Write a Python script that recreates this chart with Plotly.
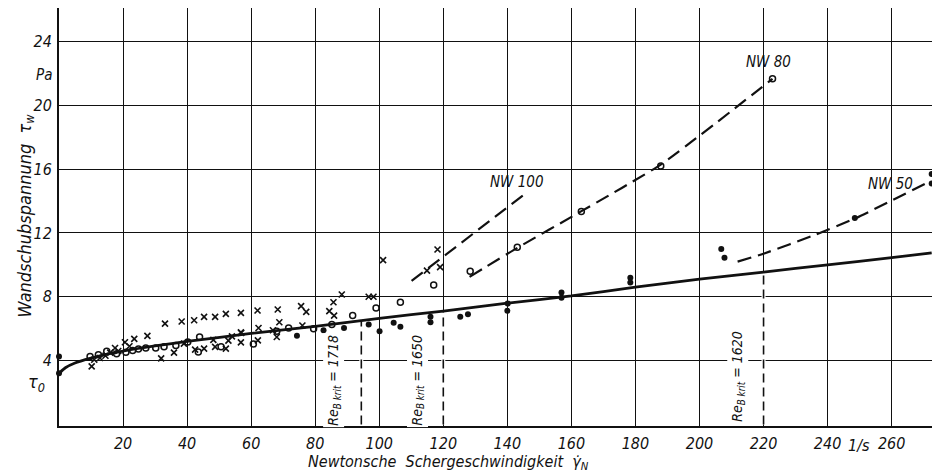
import numpy as np
import plotly.graph_objects as go

# ---------------- data ----------------
# fitted main curve (Bingham-like flow curve)
curve_x = [0, 2, 5, 10, 15, 20, 30, 40, 60, 80, 100, 120, 140, 160, 180, 200, 220, 240, 260, 272.5]
curve_y = [3.2, 3.55, 3.85, 4.15, 4.4, 4.6, 4.92, 5.2, 5.7, 6.15, 6.65, 7.1, 7.6, 8.05, 8.6, 9.1, 9.55, 10.0, 10.45, 10.75]

# dashed turbulent branches
nw100_x = [110.1, 146.2]
nw100_y = [9.0, 14.55]
nw80_x = [128.2, 143.0, 163.0, 188.0, 222.8]
nw80_y = [9.25, 11.05, 13.35, 16.3, 21.66]
nw50_x = [211.9, 220.0, 236.3, 248.9, 270.6]
nw50_y = [10.2, 10.7, 11.9, 12.94, 15.1]

# measured points: crosses
cross_x = [10.2, 11.0, 12.8, 14.5, 16.0, 17.5, 18.5, 20.6, 22.0, 23.5, 27.6, 31.9, 33.1, 35.9,
           38.3, 39.0, 42.2, 42.5, 45.3, 45.3, 48.2, 48.75, 48.75, 52.1, 52.1, 52.9, 54.0,
           56.8, 56.8, 56.8, 56.9, 62.0, 62.1, 62.3, 66.8, 68.0, 68.3, 68.8, 75.6, 76.0, 77.2,
           84.4, 85.7, 85.9, 88.3, 96.7, 98.2, 101.2, 114.9, 118.2, 119.0]
cross_y = [3.64, 4.05, 4.16, 4.3, 4.5, 4.79, 4.6, 5.15, 4.9, 5.36, 5.55, 4.14, 6.32, 4.5,
           6.45, 5.06, 6.53, 4.69, 6.74, 4.75, 5.3, 6.74, 4.86, 6.93, 4.75, 5.25, 5.52,
           6.99, 5.14, 5.77, 5.73, 7.14, 5.27, 6.04, 5.9, 5.48, 7.2, 6.4, 7.41, 6.2, 7.05,
           7.1, 7.66, 6.82, 8.14, 8.0, 8.0, 10.3, 9.64, 10.96, 9.86]

# measured points: open circles
circ_x = [9.7, 12.3, 14.9, 18.0, 20.9, 23.0, 24.8, 27.1, 30.2, 32.8, 36.5, 40.2, 43.9, 43.5,
          50.6, 60.7, 68.0, 71.7, 79.5, 85.2, 91.7, 99.0, 106.6, 117.0, 128.4, 143.1, 163.1,
          187.9, 222.8]
circ_y = [4.26, 4.37, 4.58, 4.43, 4.52, 4.64, 4.73, 4.79, 4.79, 4.86, 4.94, 5.17, 5.48, 4.54,
          4.86, 5.04, 5.84, 6.05, 5.99, 6.26, 6.82, 7.3, 7.66, 8.73, 9.6, 11.1, 13.35,
          16.2, 21.66]

# measured points: filled dots
dot_x = [0, 0, 74.3, 82.6, 89.0, 96.7, 100.1, 104.5, 106.6, 116.0, 116.0, 125.3, 127.7,
         140.1, 140.0, 156.9, 156.9, 178.4, 178.4, 206.8, 207.8, 248.5, 272.5, 272.5]
dot_y = [3.2, 4.26, 5.56, 5.9, 6.05, 6.26, 5.84, 6.37, 6.12, 6.75, 6.4, 6.75, 6.9,
         7.58, 7.12, 8.27, 7.94, 9.2, 8.9, 11.0, 10.45, 12.94, 15.7, 15.1]

# critical Reynolds markers
re_x = [94.4, 120.0, 220.0]
re_text_x = [85.6, 111.8, 211.8]
re_text_y = [2.75, 2.75, 3.0]
re_values = ["1718", "1650", "1620"]

# pipe labels
nw_labels = ["NW 100", "NW 80", "NW 50"]
nw_label_x = [143.0, 221.5, 259.7]
nw_label_y = [15.2, 22.7, 15.1]

x_ticks = [20, 40, 60, 80, 100, 120, 140, 160, 180, 200, 220, 240, 260]
y_ticks = [4, 8, 12, 16, 20, 24]

FONT = "DejaVu Sans Condensed, Liberation Sans Narrow, DejaVu Sans, sans-serif"
INK = "#111111"

fig = go.Figure()

# Re crit vertical dashed lines (white cover over grid first)
for xv in re_x:
    top = float(np.interp(xv, curve_x, curve_y))
    fig.add_trace(go.Scatter(x=[xv, xv], y=[0, top], mode="lines",
                             line=dict(color="white", width=4), hoverinfo="skip", showlegend=False))
    fig.add_trace(go.Scatter(x=[xv, xv], y=[0, top], mode="lines",
                             line=dict(color=INK, width=1.6, dash="9px,5px"),
                             hoverinfo="skip", showlegend=False))

# main curve
fig.add_trace(go.Scatter(x=curve_x, y=curve_y, mode="lines",
                         line=dict(color=INK, width=2.8, shape="spline", smoothing=0.6),
                         showlegend=False))

# dashed branches
for bx, by in [(nw100_x, nw100_y), (nw80_x, nw80_y), (nw50_x, nw50_y)]:
    fig.add_trace(go.Scatter(x=bx, y=by, mode="lines",
                             line=dict(color=INK, width=2.2, dash="14px,7px", shape="spline", smoothing=0.5),
                             showlegend=False))

# markers
fig.add_trace(go.Scatter(x=cross_x, y=cross_y, mode="markers",
                         marker=dict(symbol="x-thin", size=6, line=dict(color=INK, width=1.6)),
                         showlegend=False))
fig.add_trace(go.Scatter(x=circ_x, y=circ_y, mode="markers",
                         marker=dict(symbol="circle-open", size=6, color=INK, line=dict(color=INK, width=1.5)),
                         showlegend=False))
fig.add_trace(go.Scatter(x=dot_x, y=dot_y, mode="markers",
                         marker=dict(symbol="circle", size=6, color=INK),
                         showlegend=False, cliponaxis=False))

ann = []
for tx, ty, val in zip(re_text_x, re_text_y, re_values):
    ann.append(dict(x=tx, y=ty, xref="x", yref="y", showarrow=False, textangle=-90,
                    text=f"Re<sub>B krit</sub> = {val}", bgcolor="white",
                    font=dict(family=FONT, size=14, color=INK, style="italic")))
for lab, lx, ly in zip(nw_labels, nw_label_x, nw_label_y):
    ann.append(dict(x=lx, y=ly, xref="x", yref="y", showarrow=False, text=lab,
                    font=dict(family=FONT, size=15, color=INK, style="italic")))

# axis titles and units
ann.append(dict(x=121.6, y=0, xref="x", yref="paper", yanchor="middle", yshift=-36, showarrow=False,
                text="Newtonsche  Schergeschwindigkeit  γ̇<sub>N</sub>",
                font=dict(family=FONT, size=16, color=INK, style="italic")))
ann.append(dict(x=0, y=13.1, xref="paper", yref="y", xanchor="center", xshift=-33, showarrow=False,
                textangle=-90, text="Wandschubspannung  τ<sub>w</sub>",
                font=dict(family=FONT, size=18, color=INK, style="italic")))
ann.append(dict(x=0, y=21.9, xref="paper", yref="y", xanchor="center", xshift=-15, showarrow=False,
                text="Pa", font=dict(family=FONT, size=15, color=INK, style="italic")))
ann.append(dict(x=0, y=2.6, xref="paper", yref="y", xanchor="center", xshift=-23, showarrow=False,
                text="τ<sub>0</sub>", font=dict(family=FONT, size=18, color=INK, style="italic")))
ann.append(dict(x=249.7, y=0, xref="x", yref="paper", yanchor="middle", yshift=-19, showarrow=False,
                text="1/s", font=dict(family=FONT, size=16, color=INK, style="italic")))

# the page body adds an 8px offset; size the figure so the plot box lands where the reference has it
fig.update_layout(
    width=932, height=466,
    margin=dict(l=51, r=8, t=0, b=48),
    paper_bgcolor="white", plot_bgcolor="white",
    annotations=ann,
    font=dict(family=FONT, size=16, color=INK, style="italic"),
)
fig.update_xaxes(range=[0, 272.6], tickvals=x_ticks, ticktext=[str(v) for v in x_ticks],
                 showgrid=True, gridcolor=INK, gridwidth=1.4, zeroline=False, automargin=False,
                 showline=True, linecolor=INK, linewidth=2, mirror=True, ticks="",
                 ticklabelstandoff=2,
                 tickfont=dict(family=FONT, size=16, color=INK, style="italic"))
fig.update_yaxes(range=[-0.1, 26.1], tickvals=y_ticks, ticktext=[str(v) for v in y_ticks],
                 showgrid=True, gridcolor=INK, gridwidth=1.4, zeroline=False, automargin=False,
                 showline=True, linecolor=INK, linewidth=2, mirror=True, ticks="",
                 ticklabelstandoff=2,
                 tickfont=dict(family=FONT, size=16, color=INK, style="italic"))

fig.write_html("out.html")
